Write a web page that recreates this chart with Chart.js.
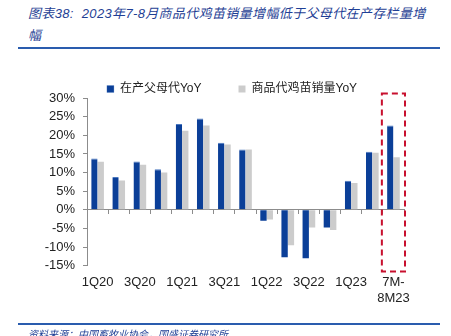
<!DOCTYPE html>
<html>
<head>
<meta charset="utf-8">
<script src="https://cdn.jsdelivr.net/npm/chart.js@4"></script>
<style>
  body { margin: 0; width: 451px; height: 336px; background: #fff; overflow: hidden; position: relative; }
  #wrap { position: absolute; left: 0; top: 0; width: 451px; height: 336px; }
  .title { position: absolute; left: 28px; top: 3px; font: italic 13px "Liberation Sans", "Noto Sans CJK SC", sans-serif; color: #1f3f95; line-height: 22px; letter-spacing: 0.35px; white-space: nowrap; }
  .rule { position: absolute; left: 18px; width: 422px; height: 2px; background: #2a5cae; }
  .source { position: absolute; left: 28px; top: 326px; font: italic 10px "Liberation Sans", "Noto Sans CJK SC", sans-serif; color: #1f3f95; white-space: nowrap; }
</style>
</head>
<body>
<div class="title">图表38:&nbsp; 2023年7-8月商品代鸡苗销量增幅低于父母代在产存栏量增<br>幅</div>
<div class="rule" style="top:47px"></div>
<div id="wrap"><canvas id="myChart" width="451" height="336"></canvas></div>
<div class="rule" style="top:323px"></div>
<div class="source">资料来源：中国畜牧业协会，国盛证券研究所</div>
<script>
const categories = ['1Q20', '2Q20', '3Q20', '4Q20', '1Q21', '2Q21', '3Q21', '4Q21',
    '1Q22', '2Q22', '3Q22', '4Q22', '1Q23', '2Q23', ['7M-', '8M23']];
const parentStock = [13.8, 8.8, 13.0, 10.9, 23.0, 24.5, 18.0, 16.2, -2.9, -12.7, -13.0, -4.7, 7.8, 15.6, 22.6];
const chickSales = [12.9, 7.9, 12.1, 10.0, 21.2, 22.6, 17.5, 16.2, -2.6, -9.5, -4.7, -5.4, 7.2, 15.3, 14.1];
const yTicks = [-15, -10, -5, 0, 5, 10, 15, 20, 25, 30];

const axisGray = '#8c8c8c';

// dashed red box round the last period
const highlightBox = {
    id: 'highlightBox',
    afterDatasetsDraw(chart) {
        const x = chart.scales.x;
        const y = chart.scales.y;
        const last = categories.length - 1;
        const half = (x.getPixelForValue(1) - x.getPixelForValue(0)) / 2 + 1;
        const cx = x.getPixelForValue(last);
        const top = y.getPixelForValue(31.2);
        const bottom = y.getPixelForValue(-16.5);
        const ctx = chart.ctx;
        ctx.save();
        ctx.strokeStyle = '#c8102e';
        ctx.lineWidth = 2;
        ctx.setLineDash([6, 4]);
        ctx.strokeRect(cx - half, top, half * 2, bottom - top);
        ctx.restore();
    }
};

// legend sits a bit right of the canvas centre
const legendShift = {
    id: 'legendShift',
    afterLayout(chart) {
        chart.legend.left += 30;
        chart.legend.right += 30;
    }
};

const data = {
    labels: categories,
    datasets: [{
        label: '在产父母代YoY',
        backgroundColor: '#0b3f98',
        borderColor: '#4a78c0',
        borderWidth: {left: 0, right: 0, top: 1, bottom: 0},
        data: parentStock,
    }, {
        label: '商品代鸡苗销量YoY',
        backgroundColor: '#cccccc',
        borderWidth: 0,
        data: chickSales,
    }]
};

const config = {
    type: 'bar',
    data: data,
    options: {
        responsive: false,
        animation: false,
        layout: { padding: { top: 46, left: 0, right: 47, bottom: 29 } },
        datasets: { bar: { barPercentage: 1, categoryPercentage: 0.6 } },
        plugins: {
            tooltip: { enabled: false },
            legend: {
                position: 'top',
                maxHeight: 52,
                labels: {
                    boxWidth: 7,
                    boxHeight: 7,
                    padding: 37,
                    color: '#222',
                    font: { family: '"Liberation Sans", "Noto Sans CJK SC"', size: 12 }
                }
            }
        },
        scales: {
            x: {
                type: 'category',
                offset: true,
                grid: { display: false, offset: true },
                border: { display: false },
                ticks: {
                    autoSkip: false,
                    maxRotation: 0,
                    padding: 1,
                    color: '#222',
                    font: { family: '"Liberation Sans"', size: 13 },
                    callback: function (v, i) { return i % 2 === 0 ? this.getLabelForValue(v) : ''; }
                }
            },
            x0: {
                type: 'category',
                labels: categories,
                position: { y: 0 },
                offset: true,
                grid: { offset: true, drawOnChartArea: false, drawTicks: true, tickLength: 4, color: axisGray },
                border: { display: true, color: axisGray },
                ticks: { display: false }
            },
            y: {
                min: -15,
                max: 30,
                afterFit: (s) => { s.width = 87; },
                afterBuildTicks: (s) => { s.ticks = yTicks.map(v => ({ value: v })); },
                grid: { drawOnChartArea: false, drawTicks: true, tickLength: 4, color: axisGray },
                border: { display: true, color: axisGray },
                ticks: {
                    autoSkip: false,
                    padding: 8,
                    color: '#222',
                    font: { family: '"Liberation Sans"', size: 13 },
                    callback: (v) => v + '%'
                }
            }
        }
    },
    plugins: [highlightBox, legendShift]
};

// eslint-disable-next-line
const myChart = new Chart(
    document.getElementById('myChart'),
    config
);
</script>
</body>
</html>
